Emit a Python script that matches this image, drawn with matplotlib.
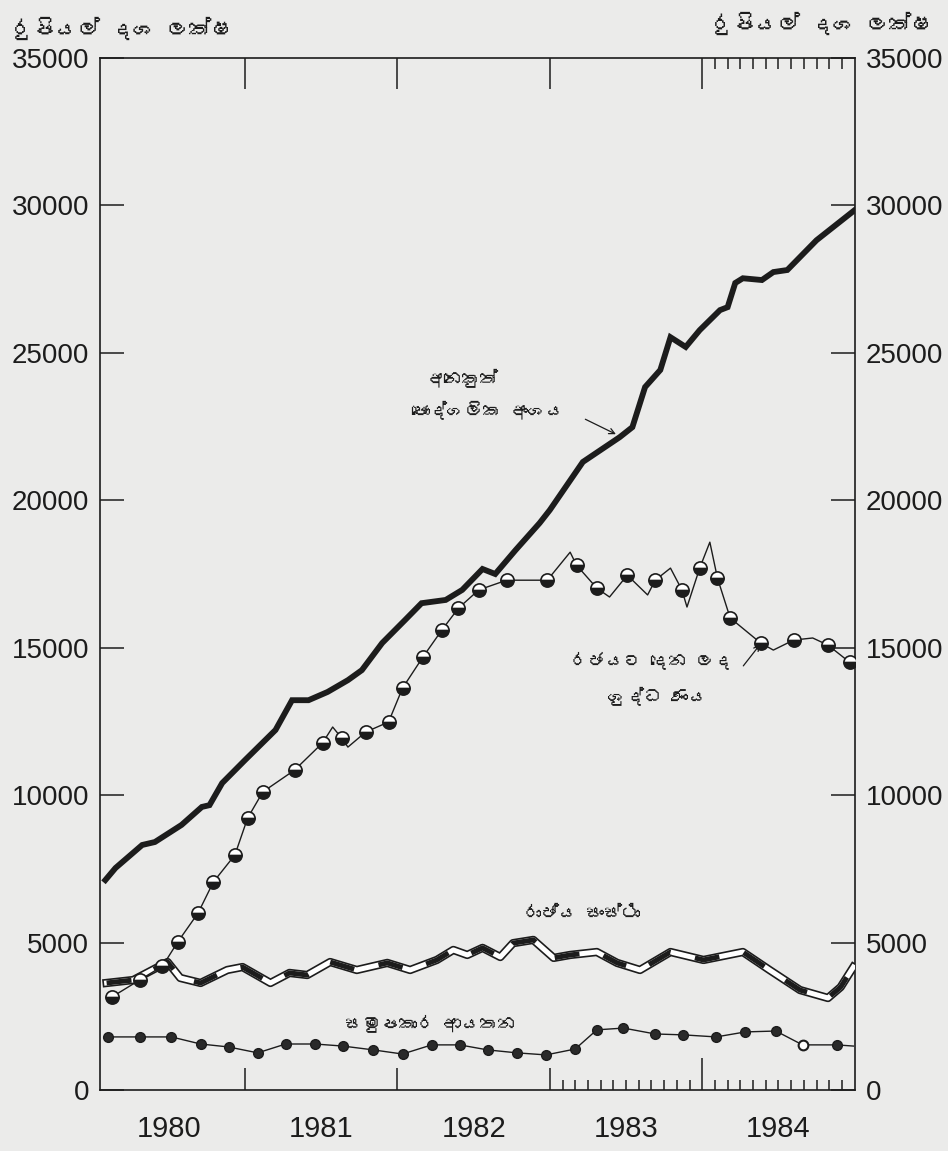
import matplotlib
matplotlib.use('Agg')
import matplotlib.pyplot as plt
from matplotlib import font_manager, ft2font

# months counted from start of 1980 (month 12 = start of 1981)
private_months = [1.0, 1.8, 3.9, 4.9, 7.0, 8.6, 9.2, 10.2, 12.0, 14.4, 15.7, 17.0, 18.5,
                  20.1, 21.2, 22.8, 24.6, 25.9, 27.8, 29.1, 30.7, 31.7, 33.3, 35.2, 36.0,
                  38.6, 41.5, 42.5, 43.5, 44.7, 45.5, 46.7, 47.8, 49.4, 50.0, 50.6, 51.2,
                  52.7, 53.6, 54.7, 57.0, 60.0]
private_values = [7120, 7530, 8310, 8410, 8990, 9600, 9660, 10410, 11190, 12210, 13220,
                  13220, 13500, 13900, 14240, 15160, 15940, 16510, 16620, 16960, 17670,
                  17500, 18310, 19230, 19670, 21300, 22140, 22480, 23840, 24420, 25530,
                  25200, 25770, 26450, 26550, 27370, 27530, 27470, 27740, 27810, 28820,
                  29840]

gov_months = [1.5, 3.7, 5.5, 6.7, 8.3, 9.5, 11.2, 12.2, 13.4, 15.9, 18.1, 18.9, 19.6,
              20.1, 21.5, 23.3, 24.4, 26.0, 27.5, 28.8, 30.4, 32.6, 35.8, 37.6, 38.1,
              39.7, 40.7, 42.1, 43.7, 44.3, 45.5, 46.4, 46.8, 47.8, 48.6, 49.2, 50.2,
              52.6, 53.6, 55.2, 56.7, 57.9, 59.6, 60.0]
gov_values = [3150, 3730, 4200, 5020, 6000, 7050, 7970, 9220, 10110, 10850, 11770, 12310,
              11940, 11630, 12140, 12480, 13630, 14680, 15600, 16340, 16960, 17290, 17290,
              18240, 17800, 17020, 16720, 17460, 16790, 17290, 17700, 16960, 16380, 17700,
              18580, 17360, 16010, 15160, 14920, 15260, 15330, 15090, 14510, 14580]
gov_corners = [11, 13, 23, 26, 28, 30, 32, 34, 38, 40, 43]  # bends with no marker

corp_months = [1.1, 3.2, 5.9, 6.9, 8.5, 10.6, 11.8, 14.0, 15.5, 16.9, 18.7, 20.8, 23.2,
               25.0, 27.1, 28.4, 29.5, 30.7, 32.1, 33.1, 34.7, 36.3, 37.6, 39.7, 41.3,
               43.1, 45.5, 48.1, 51.2, 53.3, 55.7, 57.9, 58.9, 59.9]
corp_values = [3630, 3730, 4340, 3800, 3630, 4070, 4170, 3630, 3970, 3900, 4340, 4070,
               4310, 4070, 4410, 4750, 4580, 4820, 4510, 4980, 5090, 4480, 4580, 4680,
               4310, 4070, 4680, 4410, 4680, 4070, 3390, 3120, 3490, 4170]

coop_months = [1.2, 3.7, 6.2, 8.5, 10.7, 13.0, 15.2, 17.5, 19.7, 22.1, 24.4, 26.7, 28.9,
               31.1, 33.4, 35.7, 38.0, 39.7, 41.8, 44.3, 46.5, 49.1, 51.4, 53.8, 55.9,
               58.6, 59.9]
coop_values = [1800, 1800, 1800, 1560, 1460, 1260, 1560, 1560, 1490, 1360, 1220, 1530,
               1530, 1360, 1260, 1190, 1390, 2040, 2100, 1900, 1870, 1800, 1970, 2000,
               1530, 1530, 1490]
coop_open = [24]  # one hollow dot

years = ['1980', '1981', '1982', '1983', '1984']
year_centres = [6, 18, 30, 42, 54]
y_ticks = [0, 5000, 10000, 15000, 20000, 25000, 30000, 35000]

unit_label = 'රුපියල් දශ ලක්ෂ'
private_label = ['අනෙකුත්', 'පෞද්ගලික අංශය']
gov_label = ['රජයට දෙන ලද', 'ශුද්ධ ණය']
corp_label = 'රාජ්ය සංස්ථා'
coop_label = 'සමුපකාර ආයතන'


def sinhala_family():
    for f in font_manager.fontManager.ttflist:
        try:
            if 0x0DBB in ft2font.FT2Font(f.fname).get_charmap():
                return f.name
        except Exception:
            pass
    return 'DejaVu Sans'


si_font = [sinhala_family(), 'DejaVu Sans']
ink = '#1c1c1c'
paper = '#ebebea'

plt.rcParams['font.family'] = ['Liberation Sans', 'DejaVu Sans']

fig = plt.figure(figsize=(9.48, 11.51), dpi=100, facecolor=paper)
ax = fig.add_axes([0.1055, 0.053, 0.7964, 0.8966])
ax.set_facecolor(paper)

# other private sector: heavy black line
ax.plot(private_months, private_values, color=ink, lw=4.2, solid_joinstyle='miter',
        zorder=5)

# public corporations: double outline with alternating black fill
ax.plot(corp_months, corp_values, color=ink, lw=6, zorder=3)
ax.plot(corp_months, corp_values, color='white', lw=3.6, zorder=3.1)
ax.plot(corp_months, corp_values, color=ink, lw=3.6, dashes=(5, 5), zorder=3.2)

# net credit to government: half filled markers
gov_marks = [i for i in range(len(gov_months)) if i not in gov_corners]
ax.plot(gov_months, gov_values, color=ink, lw=1.0, marker='o', markersize=9.5,
        markevery=gov_marks, fillstyle='bottom', markerfacecolor=ink,
        markerfacecoloralt='white', markeredgecolor=ink, markeredgewidth=1.2, zorder=6)

# cooperatives: filled dots, one hollow
coop_filled = [i for i in range(len(coop_months) - 1) if i not in coop_open]
ax.plot(coop_months, coop_values, color=ink, lw=1.0, marker='o', markersize=7,
        markevery=coop_filled, markerfacecolor='#2a2a2a', markeredgecolor=ink, zorder=4)
ax.plot([coop_months[i] for i in coop_open], [coop_values[i] for i in coop_open],
        ls='none', marker='o', markersize=7, markerfacecolor='white',
        markeredgecolor=ink, markeredgewidth=1.5, zorder=4.5)

ax.set_xlim(0.58, 60.03)
ax.set_ylim(0, 35000)

for side in ['left', 'right', 'top', 'bottom']:
    ax.spines[side].set_color(ink)
    ax.spines[side].set_linewidth(1.2)

ax.set_yticks(y_ticks)
ax.set_yticklabels([str(v) for v in y_ticks])
ax.yaxis.set_ticks_position('both')
ax.tick_params(axis='y', direction='in', length=17, width=1.1, color=ink,
               labelsize=20, labelcolor=ink, pad=8, labelright=True)

ax.set_xticks([12, 24, 36, 48])
ax.set_xticklabels([])
ax.set_xticks([m for m in range(37, 60) if m != 48], minor=True)
ax.tick_params(axis='x', which='major', direction='in', length=16, width=1.1, color=ink)
ax.tick_params(axis='x', which='minor', direction='in', length=7, width=1.1, color=ink)
# the 1984 tick is drawn longer
ax.xaxis.get_major_ticks()[3].tick1line.set_markersize(23)

top = ax.secondary_xaxis('top')
top.set_xticks([12, 24, 36, 48])
top.set_xticklabels([])
top.set_xticks([m for m in range(49, 60)], minor=True)
top.tick_params(axis='x', which='major', direction='in', length=22, width=1.1, color=ink)
top.tick_params(axis='x', which='minor', direction='in', length=8, width=1.1, color=ink)
top.spines['top'].set_visible(False)

xt = ax.get_xaxis_transform()
for m, label in zip(year_centres, years):
    ax.text(m, -0.038, label, transform=xt, ha='center', va='center', fontsize=21,
            color=ink)

fig.text(0.012, 0.975, unit_label, family=si_font, fontsize=16, fontweight='bold',
         color=ink, ha='left', va='center')
fig.text(0.985, 0.98, unit_label, family=si_font, fontsize=16, fontweight='bold',
         color=ink, ha='right', va='center')

ax.text(29.1, 24140, private_label[0], family=si_font, fontsize=13, color=ink,
        ha='center', va='center')
ax.text(31.1, 23060, private_label[1], family=si_font, fontsize=13, color=ink,
        ha='center', va='center')
ax.annotate('', xy=(41.4, 22200), xytext=(38.6, 22790),
            arrowprops=dict(arrowstyle='->', color=ink, lw=0.9))

ax.text(44.0, 14580, gov_label[0], family=si_font, fontsize=13, color=ink,
        ha='center', va='center')
ax.text(44.5, 13330, gov_label[1], family=si_font, fontsize=13, color=ink,
        ha='center', va='center')
ax.annotate('', xy=(52.7, 15190), xytext=(51.1, 14310),
            arrowprops=dict(arrowstyle='->', color=ink, lw=0.9))

ax.text(38.5, 6000, corp_label, family=si_font, fontsize=13, color=ink,
        ha='center', va='center')
ax.text(26.6, 2270, coop_label, family=si_font, fontsize=13, color=ink,
        ha='center', va='center')

fig.savefig('out.png', dpi=100, facecolor=paper)
